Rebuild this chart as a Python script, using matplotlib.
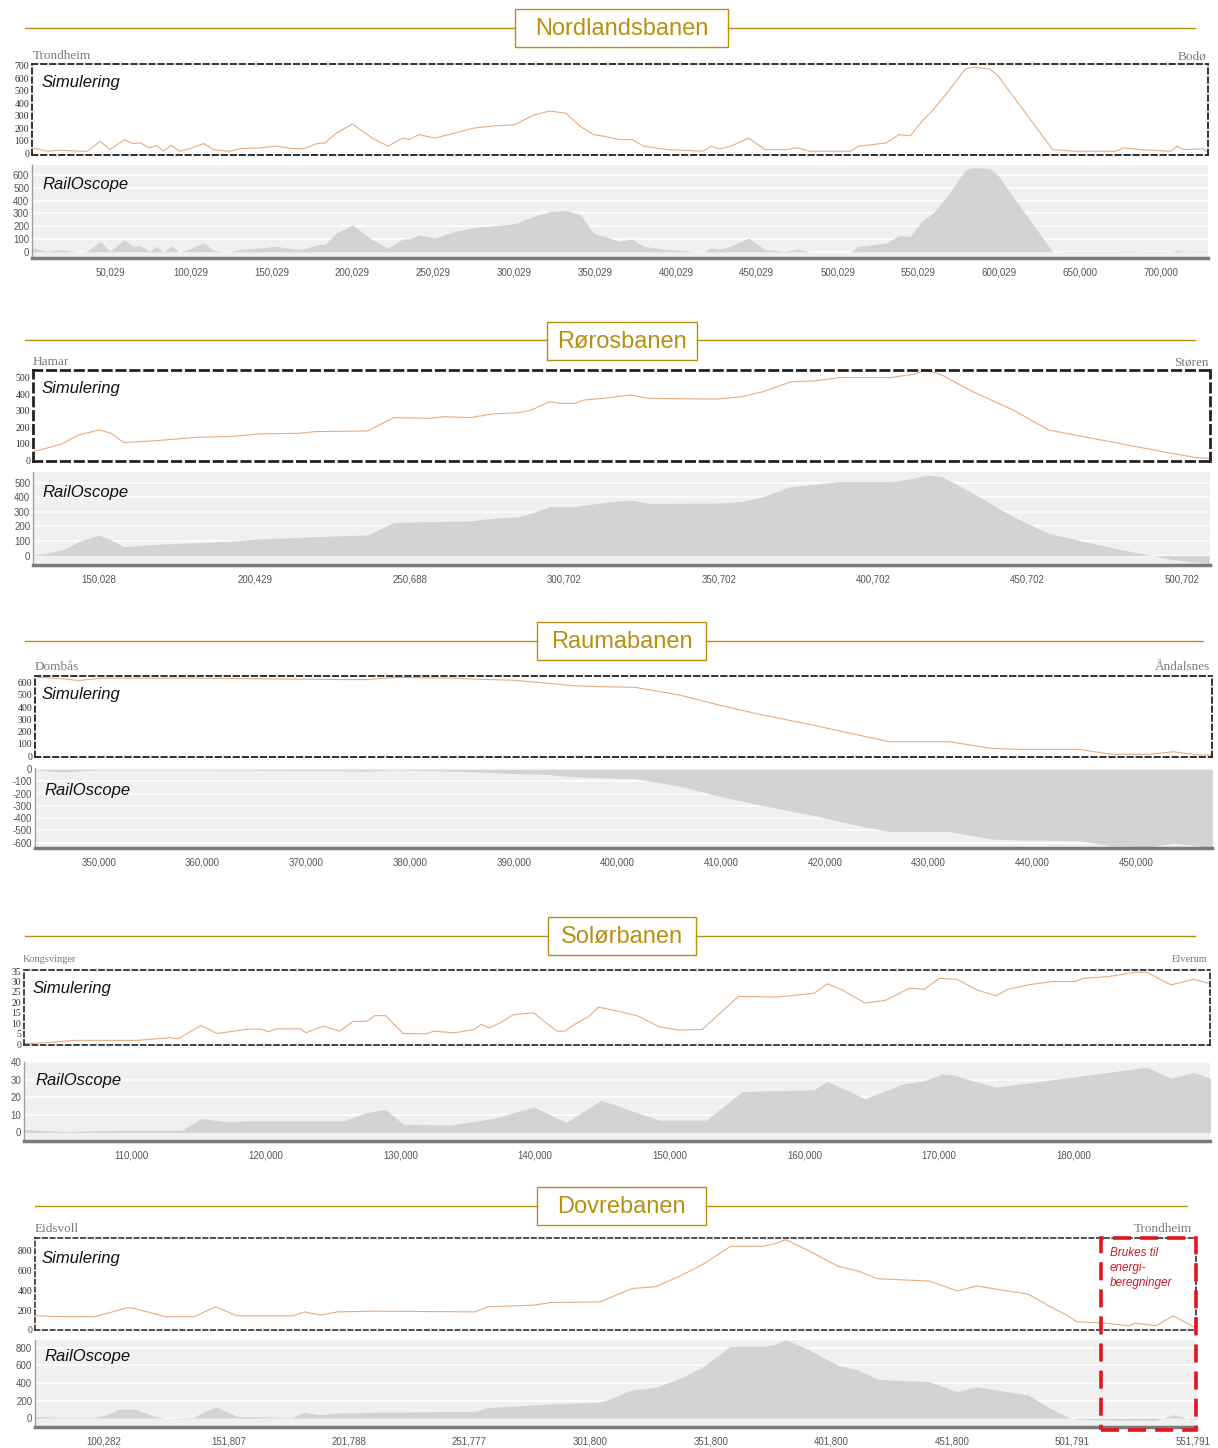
import matplotlib
matplotlib.use("Agg")
import matplotlib.pyplot as plt
from matplotlib.patches import Rectangle
from matplotlib.lines import Line2D

# ---- values: km along the line, height in metres ----

# Nordlandsbanen (Trondheim - Bodø)
nordland_km = [2, 11, 19, 31, 36, 44, 50, 59, 64, 69,
               74, 79, 83, 88, 93, 99, 108, 114, 124, 131,
               143, 153, 163, 170, 178, 183, 190, 200, 212, 222,
               231, 235, 241, 251, 263, 275, 288, 300, 312, 322,
               332, 341, 349, 356, 365, 373, 380, 395, 417, 422,
               427, 434, 445, 455, 468, 475, 483, 508, 513, 530,
               538, 545, 552, 559, 569, 579, 584, 594, 599, 633,
               647, 672, 677, 687, 706, 710, 714, 726, 729]
nordland_sim = [45, 18, 26, 18, 18, 97, 31, 110, 79, 84,
                45, 63, 18, 65, 18, 37, 79, 31, 18, 39,
                45, 58, 39, 39, 79, 84, 162, 235, 123, 58,
                123, 110, 150, 123, 162, 202, 220, 228, 306, 338,
                320, 215, 150, 136, 110, 110, 58, 31, 18, 58,
                37, 58, 123, 31, 31, 45, 18, 18, 58, 84,
                150, 141, 254, 346, 503, 673, 686, 673, 621, 31,
                18, 18, 45, 31, 18, 58, 31, 37, 10]
nordland_rail = [31, 5, 18, 0, 5, 83, 5, 96, 44, 49,
                 5, 44, 0, 49, 0, 23, 70, 13, 0, 23,
                 31, 44, 23, 23, 57, 60, 147, 212, 96, 31,
                 101, 101, 134, 109, 160, 191, 205, 220, 277, 315,
                 323, 290, 147, 122, 83, 101, 44, 18, 0, 31,
                 23, 44, 109, 18, 5, 23, 0, 0, 44, 70,
                 127, 122, 238, 302, 458, 640, 657, 652, 600, 0,
                 5, 3, 8, 5, 3, 13, 5, 8, 5]
nordland_sim_yticks = [0, 100, 200, 300, 400, 500, 600, 700]
nordland_rail_yticks = [0, 100, 200, 300, 400, 500, 600]
nordland_xticks = [50.029, 100.029, 150.029, 200.029, 250.029, 300.029, 350.029,
                   400.029, 450.029, 500.029, 550.029, 600.029, 650.0, 700.0]
nordland_xlabels = ["50,029", "100,029", "150,029", "200,029", "250,029", "300,029",
                    "350,029", "400,029", "450,029", "500,029", "550,029", "600,029",
                    "650,000", "700,000"]

# Rørosbanen (Hamar - Støren)
roros_km = [129, 133, 138, 143.5, 150, 154, 158, 169, 182, 192,
            202, 215, 220, 237, 245.5, 257, 262, 270, 277.5, 286,
            290, 296, 299, 304, 307, 313, 322, 328, 350, 358,
            365, 374, 382, 390, 406.5, 414, 418, 423, 433, 446,
            457.5, 471.5, 484.5, 491, 497, 505, 509.5]
roros_sim = [54, 74, 100, 154, 184, 164, 108, 120, 140, 144,
             160, 164, 174, 178, 258, 254, 264, 258, 280, 288,
             304, 354, 344, 344, 364, 374, 394, 374, 370, 384,
             414, 474, 480, 500, 500, 520, 544, 514, 414, 304,
             184, 134, 88, 66, 44, 18, 14]
roros_rail = [5, 15, 39, 96, 142, 107, 62, 78, 89, 98,
              114, 125, 130, 142, 228, 233, 235, 237, 256, 267,
              290, 336, 336, 336, 345, 363, 381, 358, 360, 370,
              404, 473, 490, 507, 507, 530, 552, 541, 427, 267,
              153, 84, 27, 0, -25, -45, -53]
roros_sim_yticks = [0, 100, 200, 300, 400, 500]
roros_rail_yticks = [0, 100, 200, 300, 400, 500]
roros_xticks = [150.028, 200.429, 250.688, 300.702, 350.702, 400.702, 450.702, 500.702]
roros_xlabels = ["150,028", "200,429", "250,688", "300,702", "350,702", "400,702",
                 "450,702", "500,702"]

# Raumabanen (Dombås - Åndalsnes)
rauma_km = [344, 346.5, 348, 350.3, 359.5, 373.2, 375.9, 378.5, 384.3, 386.2,
            390, 393, 395.7, 398.3, 401.7, 406, 409.8, 413.5, 419.3, 423.2,
            426.2, 432, 436, 438.5, 444.4, 447.7, 451.3, 453.6, 455.9, 457.4]
rauma_sim = [645, 632, 618, 637, 637, 626, 626, 643, 637, 630,
             620, 598, 576, 568, 562, 499, 417, 345, 245, 172,
             117, 117, 63, 55, 55, 14, 14, 35, 8, 8]
rauma_rail = [-6, -22, -12, -6, -6, -12, -14, -6, -15, -22,
              -35, -41, -61, -70, -77, -138, -220, -289, -385, -460,
              -509, -509, -570, -578, -583, -627, -633, -605, -625, -641]
rauma_sim_yticks = [0, 100, 200, 300, 400, 500, 600]
rauma_rail_yticks = [0, -100, -200, -300, -400, -500, -600]
rauma_xticks = [350, 360, 370, 380, 390, 400, 410, 420, 430, 440, 450]
rauma_xlabels = ["350,000", "360,000", "370,000", "380,000", "390,000", "400,000",
                 "410,000", "420,000", "430,000", "440,000", "450,000"]

# Solørbanen (Kongsvinger - Elverum)
solor_sim_km = [102, 103.8, 105.8, 110.5, 112.9, 113.5, 115.2, 116.4, 118.5, 119.6,
                120.2, 120.8, 122.6, 123, 123.7, 124.3, 125.5, 126.5, 127.5, 128.1,
                128.9, 130.2, 131.9, 132.5, 134, 135.5, 136, 136.6, 137.5, 138.4,
                139.9, 141.6, 142.2, 143.1, 144, 144.7, 146.2, 147.7, 149.2, 150.7,
                152.4, 155.1, 158, 160.7, 161.7, 162.8, 164.5, 166, 167.8, 168.9,
                170, 171.3, 172.8, 174.2, 175.1, 176.6, 178.4, 180.1, 180.7, 182.5,
                184.5, 185.4, 187.2, 188.9, 190.1]
solor_sim = [0.3, 0.8, 1.9, 1.9, 3.2, 2.7, 9.0, 5.2, 7.1, 7.4,
             6.0, 7.4, 7.4, 5.5, 7.4, 8.7, 6.3, 11.0, 11.0, 13.7,
             13.7, 5.2, 5.0, 6.3, 5.5, 7.1, 9.5, 7.9, 10.6, 14.2,
             15.0, 6.3, 6.3, 10.2, 13.4, 17.8, 15.8, 13.4, 8.4, 6.8,
             7.1, 22.9, 22.6, 24.4, 28.9, 26.0, 19.7, 21.0, 26.8, 26.3,
             31.5, 31.1, 26.0, 23.2, 26.3, 28.4, 30.0, 30.0, 31.5, 32.3,
             34.4, 34.4, 28.4, 31.1, 28.9]
solor_rail_km = [102, 105, 109.5, 113.8, 115.2, 117.3, 118.5, 125.8, 127.5, 128.9,
                 130.2, 133.7, 136.9, 139.9, 142.3, 144.9, 146, 149.2, 152.7, 155.4,
                 160.7, 161.7, 164.5, 167.3, 168.9, 170.2, 171, 174.2, 185.4, 187.2,
                 188.9, 190.2]
solor_rail = [1.7, 0.6, 1.3, 1.3, 7.9, 6.0, 6.6, 6.6, 11.3, 13.2,
              4.7, 4.2, 7.9, 14.5, 5.7, 18.3, 15.5, 7.0, 7.0, 23.4,
              24.3, 29.2, 19.2, 27.7, 29.6, 33.4, 32.8, 25.8, 37.2, 30.9,
              34.3, 30.6]
solor_sim_yticks = [0, 5, 10, 15, 20, 25, 30, 35]
solor_rail_yticks = [0, 10, 20, 30, 40]
solor_xticks = [110, 120, 130, 140, 150, 160, 170, 180]
solor_xlabels = ["110,000", "120,000", "130,000", "140,000", "150,000", "160,000",
                 "170,000", "180,000"]

# Dovrebanen (Eidsvoll - Trondheim)
dovre_km = [72, 82, 96.5, 101.5, 106.5, 110, 113, 121.5, 126, 137.5,
            146.5, 155.5, 178.5, 183.5, 190, 197, 213, 254, 259.5, 278.5,
            285.5, 306, 312.5, 319, 329, 339, 348.5, 360, 373.5, 378.5,
            383, 391.5, 404.5, 413, 421, 442.5, 454, 462, 483.5, 492,
            500, 503.5, 515, 525, 528, 536.5, 543.5, 552.5]
dovre_sim = [141, 134, 131, 165, 200, 225, 215, 160, 131, 131,
             232, 141, 141, 181, 148, 181, 188, 181, 232, 249,
             276, 282, 350, 417, 437, 544, 662, 847, 847, 874,
             914, 813, 645, 595, 517, 494, 393, 444, 360, 242,
             140, 81, 67, 40, 67, 40, 141, 24]
dovre_rail = [19, 11, 11, 38, 102, 102, 102, 19, 0, 11,
              132, 19, 11, 68, 38, 57, 68, 75, 121, 150,
              162, 183, 245, 320, 351, 452, 584, 818, 818, 841,
              893, 792, 603, 547, 441, 415, 302, 358, 264, 120,
              11, -11, -19, -26, -20, -26, 38, -19]
dovre_sim_yticks = [0, 200, 400, 600, 800]
dovre_rail_yticks = [0, 200, 400, 600, 800]
dovre_xticks = [100.282, 151.807, 201.788, 251.777, 301.8, 351.8, 401.8, 451.8,
                501.791, 551.791]
dovre_xlabels = ["100,282", "151,807", "201,788", "251,777", "301,800", "351,800",
                 "401,800", "451,800", "501,791", "551,791"]

# ---- drawing ----
W, H = 1218, 1448
GOLD = "#b8900f"
LINE = "#e6ac80"
FILL = "#d3d3d3"
SANS = "Liberation Sans"
SERIF = "Liberation Serif"

fig = plt.figure(figsize=(W / 100, H / 100), dpi=100)


def fx(x):
    return x / W


def fy(y):
    return 1 - y / H


def rect(x0, y0, x1, y1):
    return [x0 / W, 1 - y1 / H, (x1 - x0) / W, (y1 - y0) / H]


def header(title, y, x0, x1, bx0, bx1, by0, by1):
    fig.add_artist(Line2D([fx(x0), fx(bx0)], [fy(y), fy(y)], color=GOLD, lw=1.0))
    fig.add_artist(Line2D([fx(bx1), fx(x1)], [fy(y), fy(y)], color=GOLD, lw=1.0))
    fig.add_artist(Rectangle((fx(bx0), fy(by1)), (bx1 - bx0) / W, (by1 - by0) / H,
                             transform=fig.transFigure, facecolor="white",
                             edgecolor=GOLD, lw=1.0))
    fig.text(fx((bx0 + bx1) / 2), fy((by0 + by1) / 2 + 1), title, ha="center",
             va="center", color=GOLD, fontsize=17, family=SANS)


def sim_panel(box, km, vals, ylim, yticks, xlim, dash_lw):
    ax = fig.add_axes(rect(*box))
    ax.plot(km, vals, color=LINE, lw=0.8)
    ax.set_xlim(xlim)
    ax.set_ylim(ylim)
    ax.set_xticks([])
    ax.set_yticks(yticks)
    ax.set_yticklabels([str(t) for t in yticks], family=SERIF, fontsize=7, color="#333333")
    ax.tick_params(axis="y", length=0, pad=2)
    for s in ax.spines.values():
        s.set_linestyle((0, (3, 2)))
        s.set_linewidth(dash_lw)
        s.set_color("#222222")
    return ax


def rail_panel(box, km, vals, ylim, yticks, xlim, xticks, xlabels):
    ax = fig.add_axes(rect(*box))
    ax.set_facecolor("#f0f0f0")
    ax.fill_between(km, vals, 0, color=FILL, lw=0, zorder=2)
    ax.set_xlim(xlim)
    ax.set_ylim(ylim)
    ax.set_yticks(yticks)
    ax.set_yticklabels([str(t) for t in yticks], family=SANS, fontsize=7, color="#555555")
    ax.set_xticks(xticks)
    ax.set_xticklabels(xlabels, family=SANS, fontsize=7, color="#555555")
    ax.grid(axis="y", color="white", lw=1.1, zorder=1)
    ax.set_axisbelow(True)
    ax.tick_params(axis="y", length=0, pad=2)
    ax.tick_params(axis="x", length=0, pad=7)
    ax.spines["top"].set_visible(False)
    ax.spines["right"].set_visible(False)
    ax.spines["left"].set_color("#a0a0a0")
    ax.spines["left"].set_linewidth(1.0)
    ax.spines["bottom"].set_color("#7a7a7a")
    ax.spines["bottom"].set_linewidth(2.5)
    return ax


def labels(sim_xy, rail_xy, start, start_xy, end, end_xy, place_size):
    fig.text(fx(sim_xy[0]), fy(sim_xy[1]), "Simulering", ha="left", va="center",
             style="italic", fontsize=12, family=SANS, color="#111111")
    fig.text(fx(rail_xy[0]), fy(rail_xy[1]), "RailOscope", ha="left", va="center",
             style="italic", fontsize=12, family=SANS, color="#111111")
    fig.text(fx(start_xy[0]), fy(start_xy[1]), start, ha="left", va="center",
             fontsize=place_size, family=SERIF, color="#7a7a7a")
    fig.text(fx(end_xy[0]), fy(end_xy[1]), end, ha="right", va="center",
             fontsize=place_size, family=SERIF, color="#7a7a7a")


# Nordlandsbanen
header("Nordlandsbanen", 28, 25, 1195, 515, 728, 9, 47)
nl_xlim = (1.79, 729.07)
sim_panel((32, 64, 1208, 155), nordland_km, nordland_sim, (-12, 712),
          nordland_sim_yticks, nl_xlim, 1.3)
rail_panel((32, 165, 1208, 258), nordland_km, nordland_rail, (-47, 678),
           nordland_rail_yticks, nl_xlim, nordland_xticks, nordland_xlabels)
labels((42, 82), (42, 185), "Trondheim", (33, 56), "Bodø", (1206, 56), 9.5)

# Rørosbanen
header("Rørosbanen", 340, 25, 1195, 547, 697, 322, 360)
ro_xlim = (128.65, 509.77)
sim_panel((33, 370, 1210, 461), roros_km, roros_sim, (-3, 545),
          roros_sim_yticks, ro_xlim, 2.0)
rail_panel((33, 472, 1210, 565), roros_km, roros_rail, (-64, 573),
           roros_rail_yticks, ro_xlim, roros_xticks, roros_xlabels)
labels((42, 389), (42, 492), "Hamar", (33, 362), "Støren", (1209, 362), 9.5)

# Raumabanen
header("Raumabanen", 641, 25, 1203, 537, 706, 622, 660)
ra_xlim = (343.83, 457.33)
sim_panel((35, 676, 1212, 757), rauma_km, rauma_sim, (-8, 655),
          rauma_sim_yticks, ra_xlim, 1.3)
rail_panel((35, 768, 1212, 848), rauma_km, rauma_rail, (-644, 10),
           rauma_rail_yticks, ra_xlim, rauma_xticks, rauma_xlabels)
labels((42, 694), (44, 791), "Dombås", (35, 667), "Åndalsnes", (1210, 667), 9.5)

# Solørbanen
header("Solørbanen", 936, 25, 1195, 548, 696, 917, 955)
so_xlim = (102.06, 190.1)
sim_panel((24, 970, 1210, 1045), solor_sim_km, solor_sim, (-0.3, 35.5),
          solor_sim_yticks, so_xlim, 1.2)
rail_panel((24, 1062, 1210, 1141), solor_rail_km, solor_rail, (-4.9, 40.2),
           solor_rail_yticks, so_xlim, solor_xticks, solor_xlabels)
labels((33, 988), (35, 1081), "Kongsvinger", (23, 959), "Elverum", (1207, 959), 7.5)

# Dovrebanen
header("Dovrebanen", 1206, 35, 1187, 537, 706, 1187, 1225)
do_xlim = (71.67, 553.0)
sim_panel((35, 1238, 1196, 1330), dovre_km, dovre_sim, (-3, 931),
          dovre_sim_yticks, do_xlim, 1.1)
rail_panel((35, 1340, 1196, 1427), dovre_km, dovre_rail, (-101, 890),
           dovre_rail_yticks, do_xlim, dovre_xticks, dovre_xlabels)
labels((42, 1259), (44, 1357), "Eidsvoll", (35, 1229), "Trondheim", (1192, 1229), 9.5)

# marked area used for the energy calculations
fig.add_artist(Rectangle((fx(1101), fy(1430)), 95 / W, 192 / H, transform=fig.transFigure,
                         fill=False, edgecolor="#e3141c", lw=2.6, linestyle=(0, (5, 2.5))))
fig.text(fx(1110), fy(1247), "Brukes til\nenergi-\nberegninger", ha="left", va="top",
         color="#d01a2a", style="italic", fontsize=8.5, family=SANS, linespacing=1.35)

fig.savefig("out.png", dpi=100)
